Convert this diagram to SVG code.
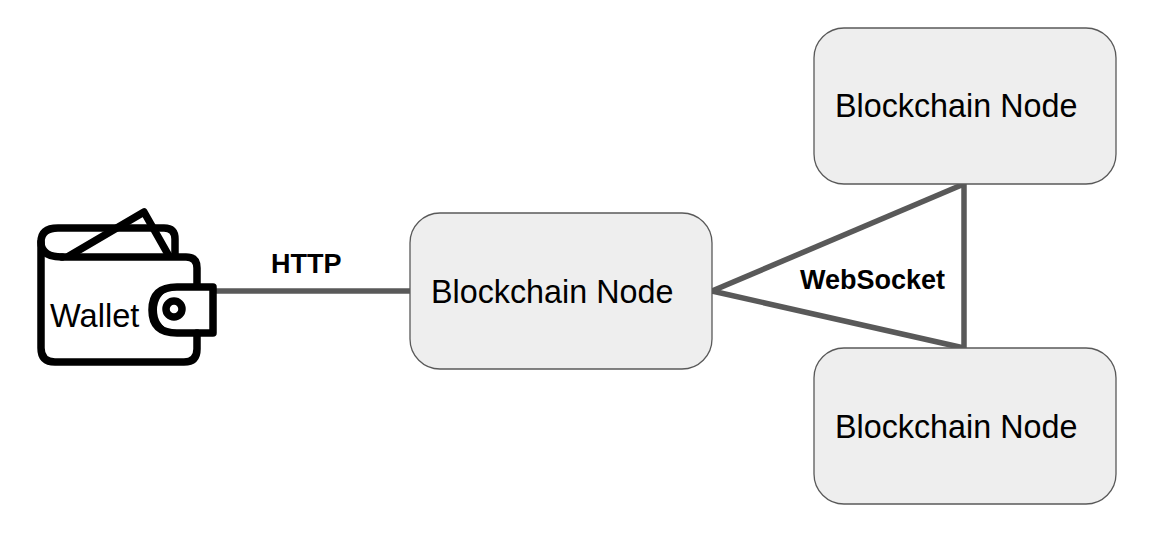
<svg xmlns="http://www.w3.org/2000/svg" width="1166" height="538" viewBox="0 0 1166 538">
<style>
.node{fill:#eeeeee;stroke:#595959;stroke-width:1.3}
.lbl{font-family:"Liberation Sans",Arial,sans-serif;font-size:32.3px;fill:#000}
.edge{font-family:"Liberation Sans",Arial,sans-serif;font-size:27px;font-weight:bold;fill:#000}
.conn{fill:none;stroke:#595959;stroke-width:5.5}
.wal{fill:none;stroke:#000;stroke-width:7.5;stroke-linejoin:round;stroke-linecap:round}
</style>
<rect width="1166" height="538" fill="#fff"/>
<g id="connectors">
<path class="conn" d="M216 291H410"/>
<path class="conn" d="M712 291L964 184"/>
<path class="conn" d="M712 291L964 348"/>
<path class="conn" d="M964 184V348"/>
</g>
<g id="wallet">
<path class="wal" d="M62 257H186Q197 257 197 268V286M197 333V349Q197 362 184 362H55Q41 362 41 348V242"/>
<path class="wal" d="M62 257Q41 257 41 242Q41 228 58 228H164Q175 228 175 239V256"/>
<path class="wal" d="M69 256L144 212L169 256"/>
<path class="wal" d="M213 287H177Q152 287 152 310Q152 333 177 333H213Z"/>
<path d="M170 289Q157 296 157 310Q157 324 170 331L160 331Q150 322 150 310Q150 297 160 289Z" fill="#000"/>
<circle class="wal" cx="174" cy="309" r="8"/>
<text x="50" y="327" font-family="'Liberation Sans',Arial,sans-serif" font-size="32.6">Wallet</text>
</g>
<g id="node-center">
<rect class="node" x="410" y="213" width="302" height="156" rx="30"/>
<text class="lbl" x="431" y="303">Blockchain Node</text>
</g>
<g id="node-top">
<rect class="node" x="814" y="28" width="302" height="156" rx="30"/>
<text class="lbl" x="835" y="117">Blockchain Node</text>
</g>
<g id="node-bottom">
<rect class="node" x="814" y="348" width="302" height="156" rx="30"/>
<text class="lbl" x="835" y="438">Blockchain Node</text>
</g>
<text class="edge" x="271" y="273">HTTP</text>
<text class="edge" x="800" y="289">WebSocket</text>
</svg>
